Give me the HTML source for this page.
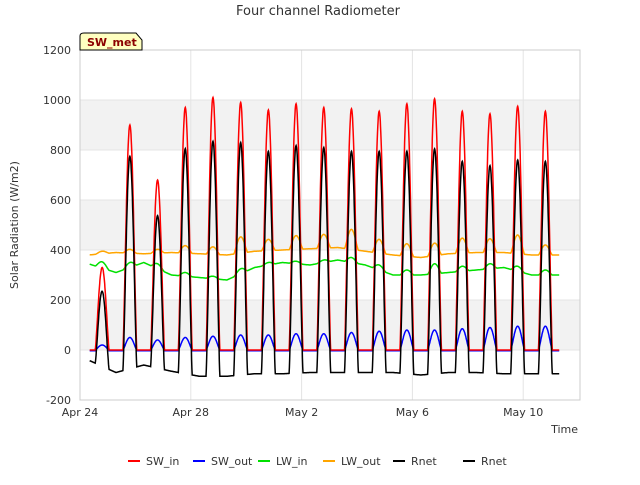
<!DOCTYPE html>
<html><head><meta charset="utf-8"><style>
body{margin:0;background:#fff;font-family:"Liberation Sans","DejaVu Sans",sans-serif}
svg text{font-family:"DejaVu Sans","Liberation Sans",sans-serif}
</style></head><body>
<svg id="c" width="640" height="480">
<text x="318" y="15" text-anchor="middle" font-size="13" fill="#333">Four channel Radiometer</text>
<g id="bands"></g><g id="grid"></g>
<rect x="80" y="50" width="500" height="350" fill="none" stroke="#ccc"/>
<g id="series"></g><g id="axes"></g>
<text x="18" y="225" transform="rotate(-90 18 225)" text-anchor="middle" font-size="11" fill="#333">Solar Radiation (W/m2)</text>
<text x="578" y="433" text-anchor="end" font-size="11" fill="#333">Time</text>
<g><path d="M80,50 L80,36 Q80,33 84,33 L136,33 L142,40 L142,50 Z" fill="#ffffc0" stroke="#000"/>
<text x="87" y="46" font-size="11" font-weight="bold" fill="#8b0000">SW_met</text></g>
<g id="legend"></g>
</svg>
<script>
const yTicks=[-200,0,200,400,600,800,1000,1200];
const xTickLabels=["Apr 24","Apr 28","May 2","May 6","May 10"];
const xTickDays=[0,4,8,12,16];
const swIn=[330,900,680,970,1010,990,960,985,970,965,955,985,1005,955,945,975,955];
const swOut=[20,50,40,50,55,60,60,65,65,70,75,80,80,85,90,95,95];
const lwInBase=[345,310,350,300,290,280,330,350,340,360,340,300,300,310,320,330,300];
const lwInPeak=[370,330,370,315,300,300,340,360,350,380,360,320,340,330,340,350,320];
const lwOutBase=[380,390,385,390,385,380,395,400,405,410,395,380,370,385,390,390,380];
const lwOutPeak=[390,405,400,420,415,445,440,455,460,490,450,430,420,445,445,465,420];
const rnetPeak=[260,760,550,815,835,825,795,815,810,795,795,800,800,755,740,760,755];
const rnetNight=[-40,-90,-60,-85,-105,-105,-95,-95,-90,-90,-90,-90,-100,-90,-90,-95,-95];
const NS="http://www.w3.org/2000/svg";
const X=d=>80+d*27.7, Y=v=>350-v*0.25;
function el(t,a,p){const e=document.createElementNS(NS,t);for(const k in a)e.setAttribute(k,a[k]);p.appendChild(e);return e;}
const bands=document.getElementById('bands'),grid=document.getElementById('grid'),axes=document.getElementById('axes'),ser=document.getElementById('series'),leg=document.getElementById('legend');
[[800,1000],[400,600],[0,200]].forEach(b=>{const r=el('rect',{x:80,y:Y(b[1]),width:500,height:Y(b[0])-Y(b[1]),fill:'#f2f2f2'},bands);

});
yTicks.forEach(v=>{const t=el('text',{x:71,y:Y(v)+4,'text-anchor':'end','font-size':11,fill:'#333'},axes);t.textContent=v;


el('line',{x1:80,x2:580,y1:Y(v),y2:Y(v),stroke:'#e4e4e4'},grid);});
xTickLabels.forEach((s,i)=>{const t=el('text',{x:X(xTickDays[i]),y:416,'text-anchor':'middle','font-size':11,fill:'#333'},axes);t.textContent=s;


el('line',{x1:X(xTickDays[i]),x2:X(xTickDays[i]),y1:50,y2:400,stroke:'#e4e4e4'},grid);});
function prof(f){const s=(f-0.55)/0.5; return (s>0&&s<1)?Math.pow(Math.sin(Math.PI*s),1.3):0;}
function base(arr,t){let u=t-0.3;if(u<0)u=0;const i=Math.min(arr.length-1,Math.floor(u)),j=Math.min(arr.length-1,i+1);const w=u-Math.floor(u);return arr[i]*(1-w)+arr[j]*w;}
function bump(t,amp){let s=0;const d=Math.floor(t);for(let k=d-1;k<=d;k++){if(k<0||k>=amp.length)continue;s+=amp[k]*prof(t-k);}return s;}
function series(fn){const pts=[];for(let t=0.35;t<=17.3;t+=0.01){pts.push(X(t).toFixed(1)+','+Y(fn(t)).toFixed(1));}return pts.join(' ');}
function draw(name,color,fn){const p=el('polyline',{points:series(fn),fill:'none',stroke:color,'stroke-width':1.5},ser);

}
const diff=(a,b)=>a.map((v,i)=>v-b[i]);
draw('lw-out-line','orange',t=>base(lwOutBase,t)+bump(t,diff(lwOutPeak,lwOutBase)));
draw('lw-in-line','#00e000',t=>base(lwInBase,t)+bump(t,diff(lwInPeak,lwInBase)));
draw('sw-out-line','blue',t=>{const v=bump(t,swOut);return v>0.5?Math.max(v,5):-3;});
draw('sw-in-line','red',t=>bump(t,swIn));
draw('rnet-line','black',t=>{const nb=base(rnetNight,t);const d=Math.floor(t);let s=nb;for(let k=d-1;k<=d;k++){if(k<0||k>=rnetPeak.length)continue;s+=(rnetPeak[k]-rnetNight[k])*prof(t-k);}return s;});
const L=[["SW_in","red",128],["SW_out","blue",193],["LW_in","#00e000",258],["LW_out","orange",323],["Rnet","black",393],["Rnet","black",463]];
L.forEach(l=>{const g=el('g',{},leg);


el('line',{x1:l[2],x2:l[2]+12,y1:461,y2:461,stroke:l[1],'stroke-width':2},g);
const t=el('text',{x:l[2]+18,y:465,'font-size':11,fill:'#333'},g);t.textContent=l[0];});
</script>
</body></html>
